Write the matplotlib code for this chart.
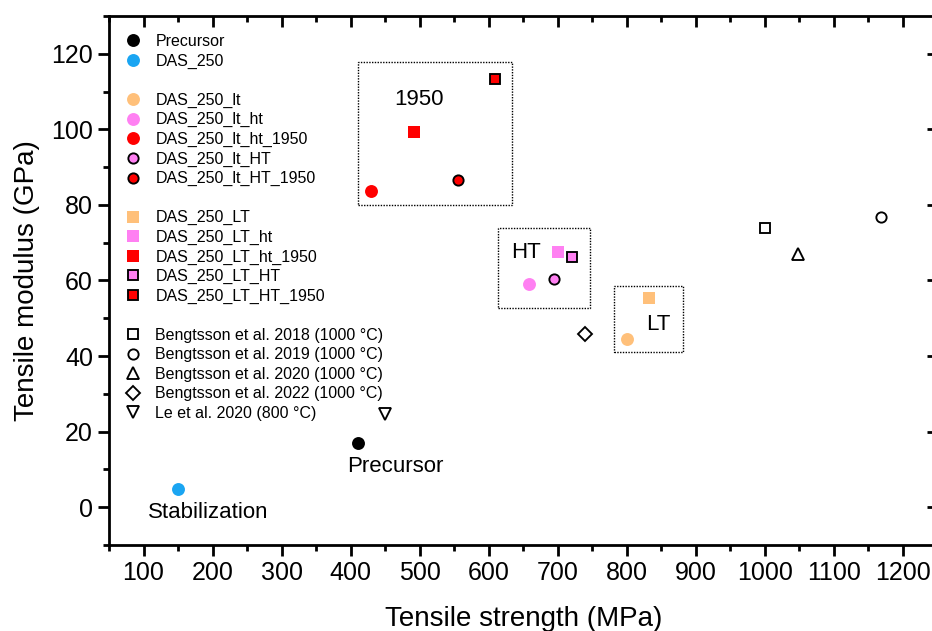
import numpy as np
import matplotlib.pyplot as plt
from matplotlib.lines import Line2D
from matplotlib.patches import Rectangle
from matplotlib.ticker import MultipleLocator

plt.rcParams['font.family'] = ['Liberation Sans', 'DejaVu Sans']

# data: tensile strength (MPa), tensile modulus (GPa)
names = ['Precursor', 'DAS_250',
         'DAS_250_lt', 'DAS_250_lt_ht', 'DAS_250_lt_ht_1950', 'DAS_250_lt_HT', 'DAS_250_lt_HT_1950',
         'DAS_250_LT', 'DAS_250_LT_ht', 'DAS_250_LT_ht_1950', 'DAS_250_LT_HT', 'DAS_250_LT_HT_1950',
         'Bengtsson et al. 2018 (1000 °C)', 'Bengtsson et al. 2019 (1000 °C)',
         'Bengtsson et al. 2020 (1000 °C)', 'Bengtsson et al. 2022 (1000 °C)',
         'Le et al. 2020 (800 °C)']
strength = [410, 150,
            800, 658, 429, 694, 556,
            832, 701, 492, 720, 609,
            1000, 1168, 1048, 739, 450]
modulus = [17.0, 4.7,
           44.6, 59.0, 83.7, 60.3, 86.6,
           55.5, 67.6, 99.3, 66.3, 113.2,
           73.8, 76.8, 67.1, 45.8, 24.6]

# dotted group boxes: (x0, x1, y0, y1)
box_x0 = [411, 613, 782]
box_x1 = [634, 746, 882]
box_y0 = [80.1, 52.6, 41.2]
box_y1 = [117.9, 73.9, 58.6]

labels_txt = ['1950', 'HT', 'LT', 'Precursor', 'Stabilization']
labels_x = [499, 654, 846, 464, 193]
labels_y = [107.8, 67.3, 48.3, 10.8, -1.3]

# styles: marker, face colour, edge colour
blue = '#1AA5F2'
orange = '#FFC07A'
pink = '#FF80F2'
red = '#FF0000'
styles = [('o', 'black', 'black'), ('o', blue, blue),
          ('o', orange, orange), ('o', pink, pink), ('o', red, red), ('o', pink, 'black'), ('o', red, 'black'),
          ('s', orange, orange), ('s', pink, pink), ('s', red, red), ('s', pink, 'black'), ('s', red, 'black'),
          ('s', 'white', 'black'), ('o', 'white', 'black'), ('^', 'white', 'black'), ('D', 'white', 'black'),
          ('v', 'white', 'black')]

fig = plt.figure(figsize=(9.32, 6.31), dpi=100)
ax = fig.add_axes([109 / 932, 86 / 631, 828.5 / 932, 529 / 631])

handles = []
for i in range(len(names)):
    m, fc, ec = styles[i]
    if ec != 'black' or fc == 'black':
        ms, mew = (9.3 if m == 'o' else 8.3), 0
    else:
        ms = {'o': 7.4, 's': 6.9, '^': 8.5, 'v': 8.5, 'D': 7.5}[m]
        mew = 1.35
    h, = ax.plot(strength[i], modulus[i], linestyle='none', marker=m, markersize=ms,
                 markerfacecolor=fc, markeredgecolor=ec, markeredgewidth=mew, label=names[i])
    handles.append(h)

for i in range(len(box_x0)):
    ax.add_patch(Rectangle((box_x0[i], box_y0[i]), box_x1[i] - box_x0[i], box_y1[i] - box_y0[i],
                           fill=False, linestyle=(0, (1, 1)), linewidth=1, edgecolor='black'))

for i in range(len(labels_txt)):
    ax.text(labels_x[i], labels_y[i], labels_txt[i], fontsize=16, ha='center', va='center')

blank = Line2D([], [], linestyle='none', marker='none')
leg_handles = handles[:2] + [blank] + handles[2:7] + [blank] + handles[7:12] + [blank] + handles[12:]
leg_labels = [h.get_label() if h is not blank else ' ' for h in leg_handles]
ax.legend(leg_handles, leg_labels, loc='upper left', bbox_to_anchor=(0.0, 0.996), frameon=False,
          fontsize=11.5, labelspacing=0.28, handlelength=1.0, handletextpad=0.9, markerscale=1.0,
          borderaxespad=0.6)

ax.set_xlim(50, 1250)
ax.set_ylim(-10, 130)
ax.xaxis.set_major_locator(MultipleLocator(100))
ax.xaxis.set_minor_locator(MultipleLocator(50))
ax.yaxis.set_major_locator(MultipleLocator(20))
ax.yaxis.set_minor_locator(MultipleLocator(10))
ax.tick_params(which='major', direction='out', length=8, width=2, labelsize=18)
ax.tick_params(which='minor', direction='out', length=4, width=2)
for s in ax.spines.values():
    s.set_linewidth(2)

top = ax.secondary_xaxis('top')
top.xaxis.set_major_locator(MultipleLocator(100))
top.xaxis.set_minor_locator(MultipleLocator(50))
top.tick_params(which='major', direction='in', length=8, width=2, labeltop=False)
top.tick_params(which='minor', direction='in', length=4, width=2)
right = ax.secondary_yaxis('right')
right.yaxis.set_major_locator(MultipleLocator(20))
right.yaxis.set_minor_locator(MultipleLocator(10))
right.tick_params(which='major', direction='in', length=8, width=2, labelright=False)
right.tick_params(which='minor', direction='in', length=4, width=1)

ax.set_xlabel('Tensile strength (MPa)', fontsize=20, labelpad=15)
ax.set_ylabel('Tensile modulus (GPa)', fontsize=20, labelpad=8)

fig.savefig('out.png', dpi=100)
